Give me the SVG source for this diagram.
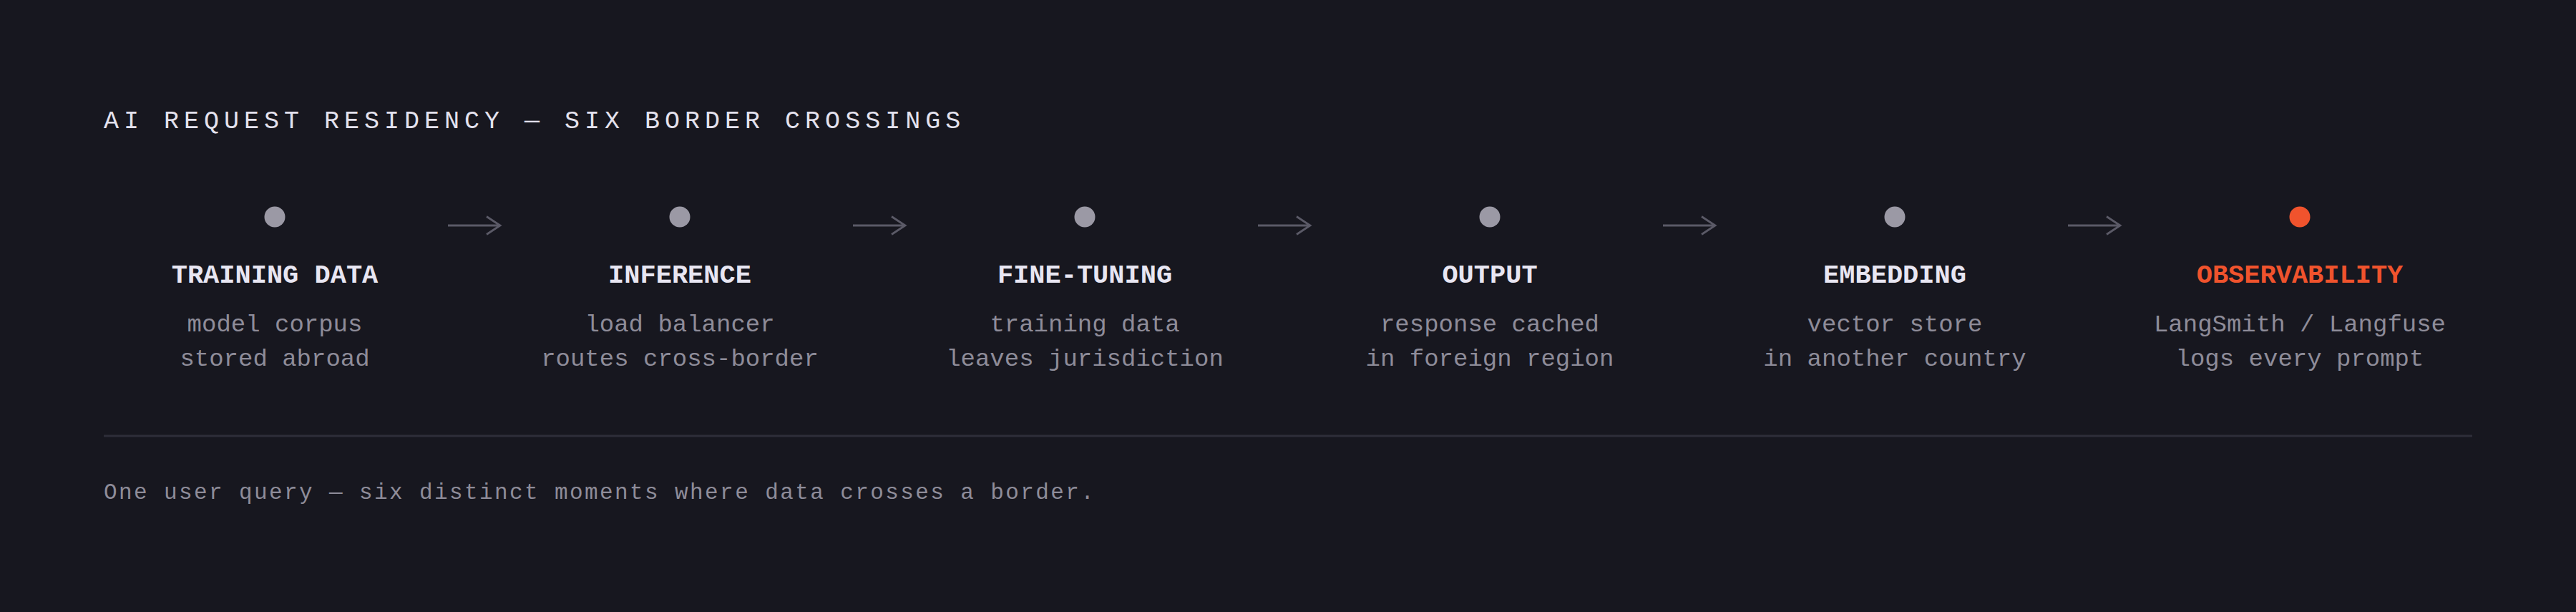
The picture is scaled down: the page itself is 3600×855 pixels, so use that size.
<svg xmlns="http://www.w3.org/2000/svg" width="3600" height="855" viewBox="0 0 3600 855">
<defs>
<style>
.bg{fill:#17171f}
.title{font-family:"Liberation Mono","DejaVu Sans Mono",monospace;font-size:35px;letter-spacing:7px;fill:#e4e2ee}
.head{font-family:"Liberation Mono","DejaVu Sans Mono",monospace;font-size:37px;font-weight:bold;fill:#e8e6f2;text-anchor:middle}
.head.hot{fill:#f0532d}
.sub{font-family:"Liberation Mono","DejaVu Sans Mono",monospace;font-size:34px;fill:#8e8c99;text-anchor:middle}
.foot{font-family:"Liberation Mono","DejaVu Sans Mono",monospace;font-size:31px;letter-spacing:2.4px;fill:#8e8c99}
.dot{fill:#9b99a5}
.dot.hot{fill:#f0532d}
.arrow{fill:none;stroke:#5b5a67;stroke-width:2.8;stroke-linecap:butt;stroke-linejoin:miter}
.rule{stroke:#2e2e39;stroke-width:3}
</style>
</defs>
<rect class="bg" x="0" y="0" width="3600" height="855"/>
<text class="title" x="145" y="179">AI REQUEST RESIDENCY — SIX BORDER CROSSINGS</text>

<g id="node-training-data">
<circle class="dot" cx="384" cy="303" r="14.5"/>
<text class="head" x="384" y="395">TRAINING DATA</text>
<text class="sub" x="384" y="463">model corpus</text>
<text class="sub" x="384" y="511">stored abroad</text>
</g>
<g id="node-inference">
<circle class="dot" cx="950" cy="303" r="14.5"/>
<text class="head" x="950" y="395">INFERENCE</text>
<text class="sub" x="950" y="463">load balancer</text>
<text class="sub" x="950" y="511">routes cross-border</text>
</g>
<g id="node-fine-tuning">
<circle class="dot" cx="1516" cy="303" r="14.5"/>
<text class="head" x="1516" y="395">FINE-TUNING</text>
<text class="sub" x="1516" y="463">training data</text>
<text class="sub" x="1516" y="511">leaves jurisdiction</text>
</g>
<g id="node-output">
<circle class="dot" cx="2082" cy="303" r="14.5"/>
<text class="head" x="2082" y="395">OUTPUT</text>
<text class="sub" x="2082" y="463">response cached</text>
<text class="sub" x="2082" y="511">in foreign region</text>
</g>
<g id="node-embedding">
<circle class="dot" cx="2648" cy="303" r="14.5"/>
<text class="head" x="2648" y="395">EMBEDDING</text>
<text class="sub" x="2648" y="463">vector store</text>
<text class="sub" x="2648" y="511">in another country</text>
</g>
<g id="node-observability">
<circle class="dot hot" cx="3214" cy="303" r="14.5"/>
<text class="head hot" x="3214" y="395">OBSERVABILITY</text>
<text class="sub" x="3214" y="463">LangSmith / Langfuse</text>
<text class="sub" x="3214" y="511">logs every prompt</text>
</g>

<g id="connectors">
<path class="arrow" d="M626 315H699M680 302.5L699 315L680 327.5"/>
<path class="arrow" d="M1192 315H1265M1246 302.5L1265 315L1246 327.5"/>
<path class="arrow" d="M1758 315H1831M1812 302.5L1831 315L1812 327.5"/>
<path class="arrow" d="M2324 315H2397M2378 302.5L2397 315L2378 327.5"/>
<path class="arrow" d="M2890 315H2963M2944 302.5L2963 315L2944 327.5"/>
</g>

<line class="rule" x1="145" y1="609" x2="3455" y2="609"/>
<text class="foot" x="145" y="697">One user query — six distinct moments where data crosses a border.</text>
</svg>
